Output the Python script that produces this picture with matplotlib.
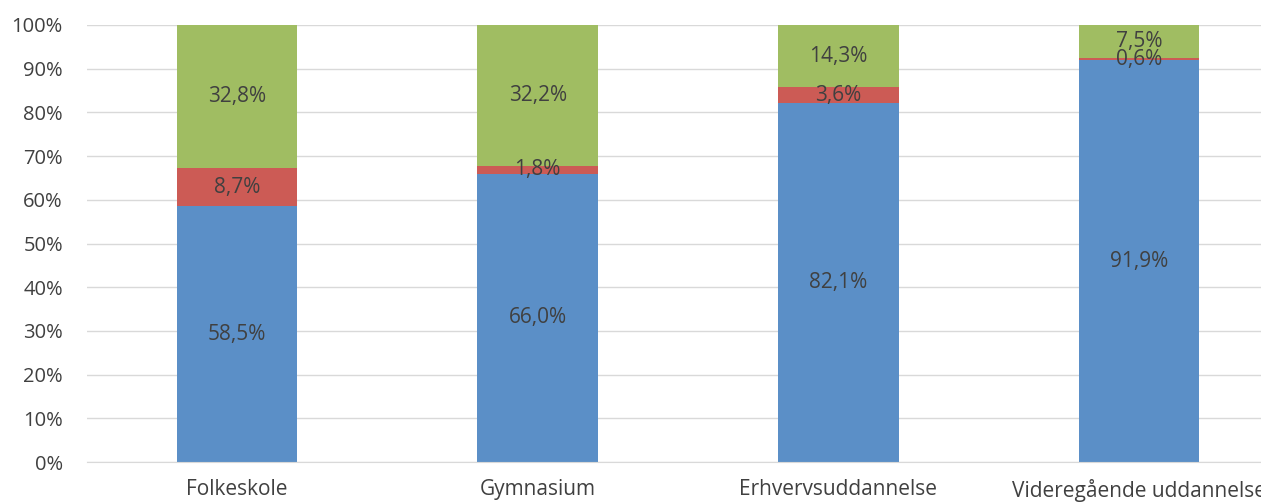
import matplotlib.pyplot as plt
import numpy as np

categories = ["Folkeskole", "Gymnasium", "Erhvervsuddannelse", "Videregående uddannelse"]
blue_vals = [58.5, 66.0, 82.1, 91.9]
red_vals = [8.7, 1.8, 3.6, 0.6]
green_vals = [32.8, 32.2, 14.3, 7.5]

plt.rcParams['font.family'] = ['Open Sans', 'DejaVu Sans']

fig = plt.figure(figsize=(12.61, 5.03), dpi=100)
ax = fig.add_axes([86.5 / 1261, 41 / 503, 1203 / 1261, 437 / 503])

x = np.arange(len(categories))
w = 0.4
txt = '#404040'
bottom = np.zeros(len(categories))
for vals, col in [(blue_vals, '#5b8fc7'), (red_vals, '#cc5b55'), (green_vals, '#a0bd62')]:
    vals = np.array(vals)
    ax.bar(x, vals, w, bottom=bottom, color=col, zorder=2)
    for xi, b, v in zip(x, bottom, vals):
        ax.text(xi, b + v / 2, f"{v:.1f}%".replace('.', ','), ha='center', va='center',
                fontsize=15, color=txt, zorder=3)
    bottom += vals

ax.set_xlim(-0.5, 3.5)
ax.set_ylim(0, 100)
ax.set_yticks(np.arange(0, 101, 10))
ax.set_yticklabels([f"{t}%" for t in range(0, 101, 10)])
ax.set_xticks(x)
ax.set_xticklabels(categories)
ax.grid(axis='y', color='#d9d9d9', linewidth=1, zorder=0)
for s in ['top', 'right', 'left']:
    ax.spines[s].set_visible(False)
ax.spines['bottom'].set_color('#d9d9d9')
ax.tick_params(axis='both', length=0, labelcolor=txt)
ax.tick_params(axis='x', pad=12, labelsize=15)
ax.tick_params(axis='y', pad=17, labelsize=14.5)

fig.savefig('out.png', dpi=100)
